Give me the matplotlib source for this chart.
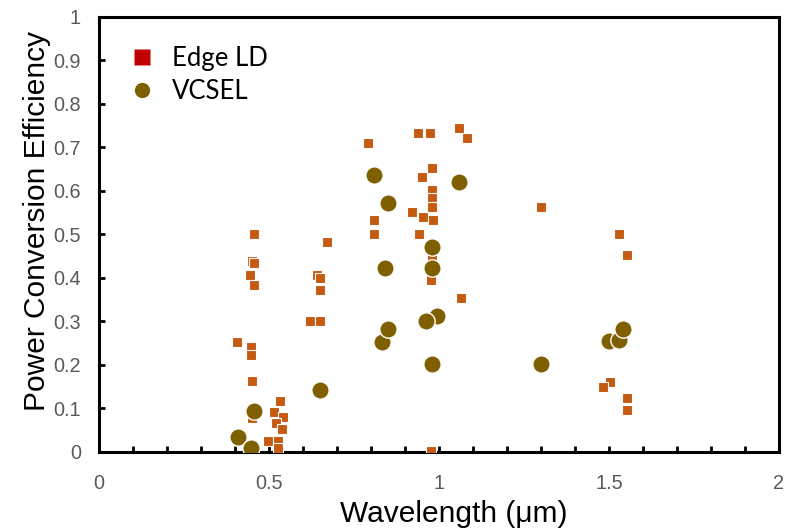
import matplotlib.pyplot as plt
from matplotlib.lines import Line2D
from matplotlib.ticker import MultipleLocator

# data
edge_x = [0.457, 0.450, 0.457, 0.444, 0.457, 0.407, 0.446, 0.448, 0.451, 0.450,
          0.671, 0.640, 0.650, 0.650, 0.620, 0.650,
          0.532, 0.516, 0.540, 0.521, 0.537, 0.498, 0.525, 0.525,
          0.792, 0.939, 0.974, 1.060, 1.081, 0.980, 0.949, 0.978, 0.978, 0.978,
          0.810, 0.922, 0.954, 0.983, 0.810, 0.941, 0.980, 0.975, 1.065, 0.975,
          1.300, 1.530, 1.552, 1.503, 1.483, 1.552, 1.552]
edge_y = [0.500, 0.440, 0.435, 0.407, 0.384, 0.252, 0.242, 0.223, 0.163, 0.078,
          0.482, 0.407, 0.400, 0.372, 0.302, 0.302,
          0.117, 0.093, 0.080, 0.066, 0.053, 0.025, 0.026, 0.008,
          0.711, 0.733, 0.733, 0.744, 0.721, 0.652, 0.633, 0.602, 0.583, 0.564,
          0.533, 0.552, 0.541, 0.533, 0.501, 0.501, 0.449, 0.395, 0.353, 0.002,
          0.563, 0.501, 0.453, 0.162, 0.150, 0.123, 0.097]

vcsel_x = [0.408, 0.447, 0.457, 0.650, 0.810, 0.851, 0.842, 0.831, 0.851,
           0.995, 0.962, 0.980, 0.980, 0.980, 1.060, 1.300, 1.501, 1.530, 1.540]
vcsel_y = [0.035, 0.008, 0.095, 0.143, 0.637, 0.572, 0.422, 0.252, 0.282,
           0.313, 0.302, 0.472, 0.422, 0.202, 0.621, 0.202, 0.254, 0.257, 0.283]

xtick_vals = [0, 0.5, 1, 1.5, 2]
xtick_labels = ['0', '0.5', '1', '1.5', '2']
ytick_vals = [0, 0.1, 0.2, 0.3, 0.4, 0.5, 0.6, 0.7, 0.8, 0.9, 1]
ytick_labels = ['0', '0.1', '0.2', '0.3', '0.4', '0.5', '0.6', '0.7', '0.8', '0.9', '1']

EDGE_COLOR = '#C55A11'
EDGE_LEGEND = '#C00000'
VCSEL_COLOR = '#7F6000'
TICK_GRAY = '#595959'

fig = plt.figure(figsize=(7.89, 5.29), dpi=100)
ax = fig.add_axes([0.1255, 0.1456, 0.8618, 0.8223])

ax.plot(edge_x, edge_y, 's', ms=7.4, color=EDGE_COLOR, mec='white', mew=0.8, zorder=3)
for x, y in zip(vcsel_x, vcsel_y):
    ax.plot(x, y, 'o', ms=12.5, color=VCSEL_COLOR, mec='white', mew=1.0, zorder=4)

ax.set_xlim(0, 2)
ax.set_ylim(0, 1)
ax.set_xticks(xtick_vals)
ax.set_xticklabels(xtick_labels)
ax.xaxis.set_minor_locator(MultipleLocator(0.1))
ax.set_yticks(ytick_vals)
ax.set_yticklabels(ytick_labels)

for s in ax.spines.values():
    s.set_linewidth(2.2)
ax.tick_params(which='both', direction='in', length=4.5, width=2.0,
               top=False, right=False, labelsize=14.3, labelcolor=TICK_GRAY)
ax.tick_params(axis='x', pad=16)
ax.tick_params(axis='y', pad=13)
for lab in ax.get_xticklabels() + ax.get_yticklabels():
    lab.set_family('Liberation Sans')

ax.set_xlabel('Wavelength (\u03bcm)', fontsize=21.5, family='Liberation Sans')
ax.set_ylabel('Power Conversion Efficiency', fontsize=21.5, family='Liberation Sans')
ax.xaxis.set_label_coords(0.521, -0.11)
ax.yaxis.set_label_coords(-0.07, 0.531)

handles = [
    Line2D([], [], marker='s', ls='none', ms=11, color=EDGE_LEGEND, mec='none'),
    Line2D([], [], marker='o', ls='none', ms=11, color=VCSEL_COLOR, mec='none'),
]
ax.legend(handles, ['Edge LD', 'VCSEL'], loc='upper left', bbox_to_anchor=(0.018, 0.958),
          frameon=False, handletextpad=0.35, labelspacing=0.32, handlelength=1.6,
          prop={'family': 'Lato', 'size': 18.5}, borderaxespad=0)

fig.savefig('out.png', dpi=100)
